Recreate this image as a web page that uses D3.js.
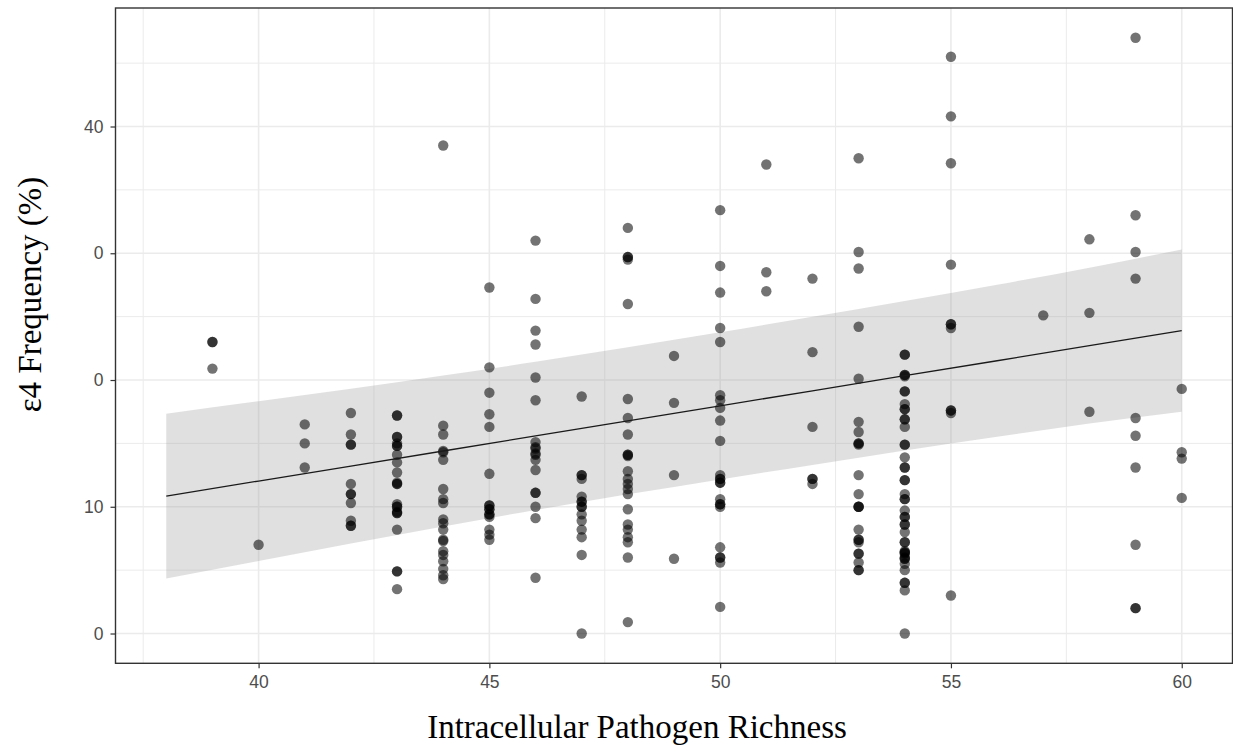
<!DOCTYPE html>
<html>
<head>
<meta charset="utf-8">
<script src="https://cdn.jsdelivr.net/npm/d3@7"></script>
<style>
  body { margin: 0; background: #fff; }
  svg { display: block; }
</style>
</head>
<body>
<script>
// richness levels (x) and the e4 frequency values seen at each level
var richnessLevels = [39, 40, 41, 42, 43, 44, 45, 46, 47, 48, 49, 50, 51, 52, 53, 54, 55, 57, 58, 59, 60];
var freqByLevel = [
  [23.0, 23.0, 20.9],
  [7.0],
  [16.5, 15.0, 13.1],
  [17.4, 15.7, 14.9, 14.9, 11.8, 11.0, 11.0, 10.3, 8.9, 8.5, 8.5],
  [17.2, 17.2, 15.5, 15.5, 15.0, 14.8, 14.8, 14.1, 13.5, 12.7, 11.9, 11.8, 11.8, 10.2, 10.0, 10.0, 9.6, 9.5, 9.5, 8.2, 4.9, 4.9, 3.5],
  [38.5, 16.4, 15.7, 14.4, 14.3, 13.7, 11.4, 10.6, 10.3, 9.0, 8.7, 8.2, 7.4, 7.3, 6.5, 6.2, 5.7, 5.1, 4.6, 4.3],
  [27.3, 21.0, 19.0, 17.3, 16.3, 12.6, 10.1, 10.1, 9.8, 9.8, 9.4, 9.4, 9.2, 8.2, 7.8, 7.4],
  [31.0, 26.4, 23.9, 22.8, 20.2, 18.4, 15.1, 14.7, 14.6, 14.1, 14.2, 13.7, 12.9, 11.1, 11.1, 10.0, 9.1, 4.4],
  [18.7, 12.5, 12.5, 12.2, 10.8, 10.4, 10.4, 10.0, 10.0, 9.4, 8.9, 8.2, 7.6, 6.2, 0.0],
  [32.0, 29.7, 29.7, 29.5, 26.0, 18.5, 17.0, 15.7, 14.1, 14.1, 14.0, 12.8, 12.2, 11.8, 11.4, 11.0, 9.8, 8.6, 8.2, 7.6, 7.2, 6.0, 0.9],
  [21.9, 18.2, 12.5, 5.9],
  [33.4, 29.0, 26.9, 24.1, 23.0, 18.8, 18.4, 17.8, 16.8, 15.2, 12.5, 12.2, 12.2, 11.9, 11.9, 10.6, 10.2, 10.2, 10.0, 6.8, 6.0, 6.0, 5.6, 2.1],
  [37.0, 28.5, 27.0],
  [28.0, 22.2, 16.3, 12.2, 12.2, 11.8],
  [37.5, 30.1, 28.8, 24.2, 20.1, 16.7, 15.9, 15.0, 15.0, 14.9, 12.5, 11.0, 10.0, 10.0, 10.0, 8.2, 7.4, 7.4, 7.2, 6.3, 6.3, 5.6, 5.0, 5.0],
  [22.0, 22.0, 20.4, 20.4, 20.3, 19.1, 19.1, 18.1, 17.7, 17.7, 16.9, 16.9, 16.3, 14.9, 14.9, 13.9, 13.1, 13.1, 12.1, 12.1, 11.0, 10.6, 10.6, 9.7, 9.2, 9.2, 8.6, 8.6, 8.0, 7.2, 7.2, 6.5, 6.4, 6.4, 6.3, 6.0, 5.9, 5.9, 5.5, 5.0, 4.0, 4.0, 3.4, 0.0],
  [45.5, 40.8, 37.1, 29.1, 24.4, 24.4, 24.1, 17.6, 17.6, 17.4, 3.0],
  [25.1],
  [31.1, 25.3, 17.5],
  [47.0, 33.0, 30.1, 28.0, 17.0, 15.6, 13.1, 7.0, 2.0, 2.0],
  [19.3, 14.3, 13.8, 10.7]
];

// fitted line and its band
var fitX     = [38, 40, 42, 44, 46, 48, 50, 52, 54, 56, 58, 60];
var fitY     = [10.84, 12.03, 13.21, 14.40, 15.59, 16.78, 17.96, 19.15, 20.34, 21.52, 22.71, 23.90];
var fitUpper = [17.34, 18.33, 19.31, 20.35, 21.44, 22.58, 23.76, 25.00, 26.24, 27.52, 28.86, 30.30];
var fitLower = [4.34, 5.73, 7.11, 8.45, 9.74, 10.98, 12.16, 13.30, 14.44, 15.52, 16.56, 17.50];

var xTicks = [40, 45, 50, 55, 60];
var xTickLabels = ["40", "45", "50", "55", "60"];
var yTicks = [0, 10, 20, 30, 40];
var yTickLabels = ["0", "10", "0", "0", "40"];

var width = 1233, height = 747;
var panelLeft = 115.5, panelRight = 1232.5, panelTop = 8, panelBottom = 663.3;

var svg = d3.select("body")
  .append("svg")
  .attr("width", width)
  .attr("height", height);

var x = d3.scaleLinear().domain([36.9, 61.1]).range([panelLeft, panelRight]);
var y = d3.scaleLinear().domain([-2.35, 49.35]).range([panelBottom, panelTop]);

var points = [];
richnessLevels.forEach(function(r, i) {
  freqByLevel[i].forEach(function(v) { points.push({x: r, y: v}); });
});

var band = fitX.map(function(d, i) {
  return {x: d, y: fitY[i], lo: fitLower[i], hi: fitUpper[i]};
});

// grid
var grid = svg.append("g");
var xMinor = d3.range(37.5, 61, 5);
var yMinor = d3.range(5, 49, 10);
grid.selectAll(".xminor").data(xMinor).enter().append("line")
  .attr("x1", function(d){return x(d);}).attr("x2", function(d){return x(d);})
  .attr("y1", panelTop).attr("y2", panelBottom)
  .style("stroke", "#ebebeb").style("stroke-width", 1);
grid.selectAll(".yminor").data(yMinor).enter().append("line")
  .attr("y1", function(d){return y(d);}).attr("y2", function(d){return y(d);})
  .attr("x1", panelLeft).attr("x2", panelRight)
  .style("stroke", "#ebebeb").style("stroke-width", 1);
grid.selectAll(".xmajor").data(xTicks).enter().append("line")
  .attr("x1", function(d){return x(d);}).attr("x2", function(d){return x(d);})
  .attr("y1", panelTop).attr("y2", panelBottom)
  .style("stroke", "#ebebeb").style("stroke-width", 1.6);
grid.selectAll(".ymajor").data(yTicks).enter().append("line")
  .attr("y1", function(d){return y(d);}).attr("y2", function(d){return y(d);})
  .attr("x1", panelLeft).attr("x2", panelRight)
  .style("stroke", "#ebebeb").style("stroke-width", 1.6);

// confidence band
svg.append("path")
  .datum(band)
  .attr("d", d3.area()
    .x(function(d){return x(d.x);})
    .y0(function(d){return y(d.lo);})
    .y1(function(d){return y(d.hi);})
    .curve(d3.curveMonotoneX))
  .style("fill", "#999999")
  .style("opacity", 0.3);

// points
svg.append("g").selectAll("circle")
  .data(points)
  .enter().append("circle")
  .attr("cx", function(d){return x(d.x);})
  .attr("cy", function(d){return y(d.y);})
  .attr("r", 5.2)
  .style("fill", "#000")
  .style("fill-opacity", 0.55);

// fit line
svg.append("path")
  .datum(band)
  .attr("d", d3.line()
    .x(function(d){return x(d.x);})
    .y(function(d){return y(d.y);}))
  .style("fill", "none")
  .style("stroke", "#1a1a1a")
  .style("stroke-width", 1.3);

// panel border
svg.append("rect")
  .attr("x", panelLeft).attr("y", panelTop)
  .attr("width", panelRight - panelLeft).attr("height", panelBottom - panelTop)
  .style("fill", "none")
  .style("stroke", "#333333")
  .style("stroke-width", 1.4);

// axes
var xAxis = svg.append("g")
  .attr("transform", "translate(0," + panelBottom + ")")
  .call(d3.axisBottom(x).tickValues(xTicks)
    .tickFormat(function(d, i){return xTickLabels[i];})
    .tickSize(5).tickPadding(7));
var yAxis = svg.append("g")
  .attr("transform", "translate(" + panelLeft + ",0)")
  .call(d3.axisLeft(y).tickValues(yTicks)
    .tickFormat(function(d, i){return yTickLabels[i];})
    .tickSize(5).tickPadding(7));

[xAxis, yAxis].forEach(function(a) {
  a.select(".domain").remove();
  a.selectAll(".tick line").style("stroke", "#333333").style("stroke-width", 1.2);
  a.selectAll(".tick text")
    .style("font-family", "'Liberation Sans', Arial, sans-serif")
    .style("font-size", "17.5px")
    .style("fill", "#4d4d4d");
});

// titles
svg.append("text")
  .attr("x", 637)
  .attr("y", 738)
  .attr("text-anchor", "middle")
  .style("font-family", "'Liberation Serif', 'Times New Roman', serif")
  .style("font-size", "33px")
  .style("fill", "#000")
  .text("Intracellular Pathogen Richness");

svg.append("text")
  .attr("transform", "translate(41,294.5) rotate(-90)")
  .attr("text-anchor", "middle")
  .style("font-family", "'Liberation Serif', 'Times New Roman', serif")
  .style("font-size", "33px")
  .style("fill", "#000")
  .text("ε4 Frequency (%)");
</script>
</body>
</html>
